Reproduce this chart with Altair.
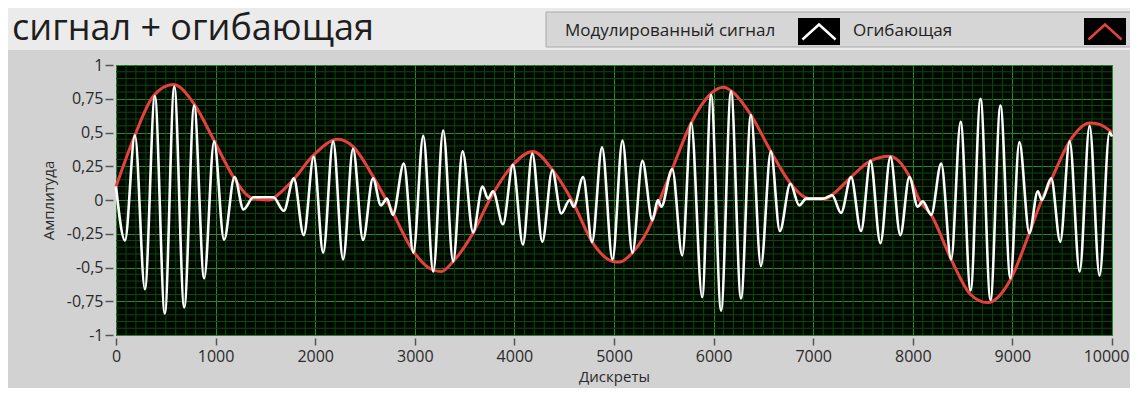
import altair as alt
import pandas as pd
import numpy as np

# ---- data ----
sig_x = [0, 90, 190, 290, 390, 490, 585, 685, 785, 885, 985, 1085, 1190, 1280, 1380, 1480, 1580,
         1685, 1785, 1885, 1985, 2080, 2180, 2280, 2380, 2480, 2580, 2660, 2720, 2780, 2890, 2985,
         3085, 3185, 3285, 3385, 3480, 3585, 3680, 3735, 3785, 3885, 3985, 4085, 4180, 4280, 4380,
         4470, 4555, 4595, 4690, 4780, 4880, 4985, 5085, 5185, 5285, 5385, 5440, 5475, 5585, 5685,
         5775, 5885, 5975, 6075, 6175, 6275, 6375, 6475, 6575, 6665, 6770, 6860, 6930, 7100, 7190,
         7280, 7380, 7480, 7575, 7675, 7775, 7875, 7965, 8050, 8100, 8185, 8285, 8385, 8480, 8580,
         8680, 8780, 8880, 8980, 9070, 9170, 9255, 9295, 9390, 9480, 9575, 9675, 9775, 9875, 9975, 10000]
sig_y = [0.10, -0.30, 0.48, -0.66, 0.77, -0.84, 0.84, -0.795, 0.70, -0.58, 0.435, -0.295, 0.17, -0.07, 0.02, 0.02, 0.02,
         -0.08, 0.16, -0.26, 0.32, -0.39, 0.435, -0.44, 0.38, -0.295, 0.16, -0.04, 0.01, -0.11, 0.27, -0.39,
         0.475, -0.53, 0.515, -0.455, 0.36, -0.24, 0.10, 0.01, 0.065, -0.18, 0.26, -0.33, 0.345, -0.31, 0.22,
         -0.10, 0.00, -0.05, 0.17, -0.31, 0.39, -0.44, 0.44, -0.39, 0.29, -0.15, 0.00, -0.05, 0.23, -0.41,
         0.57, -0.72, 0.78, -0.82, 0.806, -0.73, 0.63, -0.49, 0.36, -0.23, 0.12, -0.04, 0.01, 0.01, 0.035,
         -0.095, 0.17, -0.23, 0.29, -0.32, 0.32, -0.26, 0.17, -0.05, -0.01, -0.11, 0.27, -0.44, 0.58, -0.67,
         0.75, -0.74, 0.70, -0.58, 0.43, -0.245, 0.065, 0.00, 0.16, -0.31, 0.435, -0.53, 0.55, -0.56, 0.50, 0.47]

env_x = [0, 190, 375, 575, 785, 985, 1175, 1310, 1380, 1545, 1610, 1780, 1980, 2230, 2380, 2580, 2750,
         2985, 3185, 3265, 3385, 3585, 3750, 3985, 4185, 4380, 4590, 4780, 4990, 5055, 5185, 5385, 5460,
         5585, 5775, 5975, 6100, 6175, 6375, 6575, 6770, 6895, 6960, 7130, 7210, 7380, 7575, 7765, 7965,
         8065, 8185, 8385, 8580, 8750, 8980, 9170, 9295, 9390, 9575, 9775, 9875, 10000]
env_y = [0.10, 0.48, 0.77, 0.855, 0.71, 0.44, 0.175, 0.04, 0.01, 0.0, 0.03, 0.15, 0.33, 0.45, 0.395, 0.175, -0.05,
         -0.38, -0.52, -0.53, -0.455, -0.245, 0.0, 0.26, 0.36, 0.225, -0.02, -0.31, -0.455, -0.46, -0.39, -0.15, 0.0,
         0.23, 0.57, 0.79, 0.835, 0.81, 0.63, 0.36, 0.125, 0.03, 0.01, 0.01, 0.05, 0.17, 0.29, 0.325, 0.175,
         0.0, -0.11, -0.44, -0.70, -0.76, -0.59, -0.245, 0.0, 0.15, 0.435, 0.57, 0.56, 0.50]

x_ticks = [0, 1000, 2000, 3000, 4000, 5000, 6000, 7000, 8000, 9000, 10000]
y_ticks = [-1, -0.75, -0.5, -0.25, 0, 0.25, 0.5, 0.75, 1]
title_text = "сигнал + огибающая"
legend_labels = ["Модулированный сигнал", "Огибающая"]
x_title = "Дискреты"
y_title = "Амплитуда"

FONT = "Open Sans"
W, H = 996, 270
PAD = {"left": 108, "top": 57, "right": 18, "bottom": 53}

sig = pd.DataFrame({"x": sig_x, "y": sig_y})
env = pd.DataFrame({"x": env_x, "y": env_y})

minor_x = [v for v in range(0, 10001, 100) if v % 1000 != 0]
minor_y = [round(v, 2) for v in np.arange(-1, 1.0001, 0.05)]
minor_y = [v for v in minor_y if abs(v * 4 - round(v * 4)) > 1e-6]

xscale = alt.Scale(domain=[0, 10000], nice=False, zero=False)
yscale = alt.Scale(domain=[-1, 1], nice=False, zero=False)

xaxis = alt.Axis(values=x_ticks, format="d", title=x_title, grid=True, gridColor="#1f8c1f",
                 gridWidth=1, domain=False, offset=3, tickSize=7, tickColor="#555555",
                 tickWidth=1.5, labelPadding=3, labelFontSize=16, labelColor="#2a2a2a",
                 labelFont=FONT, labelFlush=False, labelOverlap=False,
                 labelOffset={"condition": {"test": "datum.value >= 10000", "value": -6}, "value": 0},
                 titleFont=FONT, titleFontSize=15, titleFontWeight="normal", titleColor="#2a2a2a",
                 titlePadding=5)
yaxis = alt.Axis(values=y_ticks, labelExpr="replace(toString(datum.value), '.', ',')",
                 title=y_title, grid=True, gridColor="#1f8c1f", gridWidth=1, domain=False,
                 offset=3, tickSize=8, tickColor="#555555", tickWidth=1.5, labelPadding=2,
                 labelFontSize=16, labelColor="#2a2a2a", labelFont=FONT, labelFlush=False,
                 labelOverlap=False, titleFont=FONT, titleFontSize=15, titleFontWeight="normal",
                 titleColor="#2a2a2a", titlePadding=10)

X = alt.X("x:Q", scale=xscale, axis=xaxis)
Y = alt.Y("y:Q", scale=yscale, axis=yaxis)

one = pd.DataFrame({"k": [0]})

# decorative background pieces
top_band = alt.Chart(one).mark_rect(fill="#ebebeb").encode(
    x=alt.value(-108), x2=alt.value(W + 18), y=alt.value(-57), y2=alt.value(-15))
legend_box = alt.Chart(one).mark_rect(fill="#d6d6d6", stroke="#a9a9a9", strokeWidth=1).encode(
    x=alt.value(430), x2=alt.value(W + 30), y=alt.value(-53), y2=alt.value(-18))
title = alt.Chart(one).mark_text(align="left", baseline="alphabetic", font=FONT, fontSize=36,
                                 color="#1e1e1e").encode(
    x=alt.value(-104), y=alt.value(-25), text=alt.value(title_text))

leg1 = alt.Chart(one).mark_text(align="left", baseline="middle", font=FONT, fontSize=17,
                                color="#222222").encode(
    x=alt.value(449), y=alt.value(-34), text=alt.value(legend_labels[0]))
leg2 = alt.Chart(one).mark_text(align="left", baseline="middle", font=FONT, fontSize=17,
                                color="#222222").encode(
    x=alt.value(737), y=alt.value(-34), text=alt.value(legend_labels[1]))
sw1 = alt.Chart(one).mark_rect(fill="black").encode(
    x=alt.value(682), x2=alt.value(724), y=alt.value(-47), y2=alt.value(-20))
sw2 = alt.Chart(one).mark_rect(fill="black").encode(
    x=alt.value(968), x2=alt.value(1010), y=alt.value(-47), y2=alt.value(-20))
caret = "M-1,0.45L0,-0.45L1,0.45"
c1 = alt.Chart(one).mark_point(shape=caret, filled=False, stroke="white", strokeWidth=2.5,
                               size=1100, opacity=1).encode(x=alt.value(703), y=alt.value(-33))
c2 = alt.Chart(one).mark_point(shape=caret, filled=False, stroke="#e8413c", strokeWidth=2.5,
                               size=1100, opacity=1).encode(x=alt.value(989), y=alt.value(-33))

# minor grid
gx = alt.Chart(pd.DataFrame({"x": minor_x})).mark_rule(color="#0c460c", strokeWidth=1).encode(x=X)
gy = alt.Chart(pd.DataFrame({"y": minor_y})).mark_rule(color="#0c460c", strokeWidth=1).encode(y=Y)

env_line = alt.Chart(env).mark_line(color="#e8413c", strokeWidth=3, interpolate="monotone").encode(
    x=X, y=Y, order="x:Q")
sig_line = alt.Chart(sig).mark_line(color="white", strokeWidth=2.6, interpolate="monotone").encode(
    x=X, y=Y, order="x:Q")

chart = alt.layer(top_band, legend_box, title, leg1, leg2, sw1, sw2, c1, c2,
                  gx, gy, env_line, sig_line).properties(
    width=W, height=H,
    autosize=alt.AutoSizeParams(type="none"),
    padding=PAD,
    background="#d2d2d2",
).configure_view(fill="#010801", stroke="#333333", strokeWidth=1)

chart.save("out.html", embed_options={"renderer": "svg", "actions": False})
